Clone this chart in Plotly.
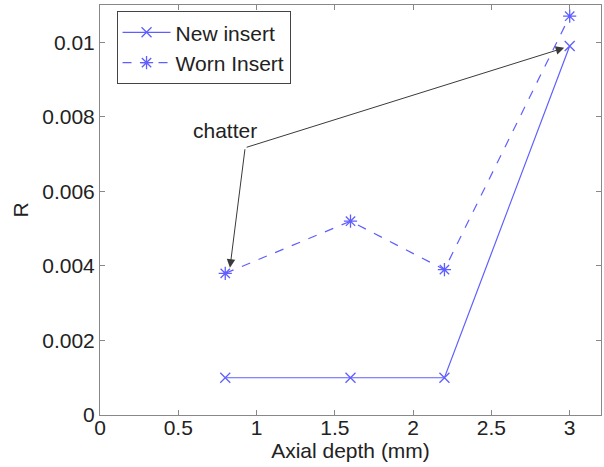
import plotly.graph_objects as go

depth = [0.8, 1.6, 2.2, 3.0]
r_new = [0.001, 0.001, 0.001, 0.0099]
r_worn = [0.0038, 0.0052, 0.0039, 0.0107]

x_ticks = [0, 0.5, 1, 1.5, 2, 2.5, 3]
x_tick_text = ["0", "0.5", "1", "1.5", "2", "2.5", "3"]
y_ticks = [0, 0.002, 0.004, 0.006, 0.008, 0.01]
y_tick_text = ["0", "0.002", "0.004", "0.006", "0.008", "0.01"]

blue = "rgb(95,95,255)"
font = dict(family="Arial, Liberation Sans, sans-serif", size=21, color="#222222")

fig = go.Figure()
fig.add_trace(go.Scatter(
    x=depth, y=r_new, name="New insert", mode="lines+markers",
    line=dict(color=blue, width=1.2),
    marker=dict(symbol="x-thin-open", size=10, line=dict(color=blue, width=1.3)),
))
fig.add_trace(go.Scatter(
    x=depth, y=r_worn, name="Worn Insert", mode="lines+markers",
    line=dict(color=blue, width=1.2, dash="dash"),
    marker=dict(symbol="asterisk-open", size=11, line=dict(color=blue, width=1.3)),
))

# "chatter" label with two arrows pointing at the affected points
fig.add_annotation(x=0.8, y=0.00762, text="chatter", showarrow=False,
                   font=font, xref="x", yref="y")
for tx, ty in [(0.83, 0.00395), (2.965, 0.00985)]:
    fig.add_annotation(x=tx, y=ty, ax=0.927, ay=0.00717, axref="x", ayref="y",
                       xref="x", yref="y", text="", showarrow=True,
                       arrowhead=2, arrowsize=1.7, arrowwidth=1, arrowcolor="#3a3a3a")

axis_common = dict(
    showgrid=False, zeroline=False, showline=True, linecolor="#888888", linewidth=1,
    mirror="ticks", ticks="inside", ticklen=5, tickcolor="#888888",
    tickfont=font,
)
fig.update_xaxes(range=[0, 3.2], tickvals=x_ticks, ticktext=x_tick_text,
                 ticklabelstandoff=-6,
                 title=dict(text="Axial depth (mm)", font=font, standoff=0), **axis_common)
fig.update_yaxes(range=[0, 0.011], tickvals=y_ticks, ticktext=y_tick_text,
                 title=dict(text="R", font=font, standoff=7), **axis_common)

fig.update_layout(
    width=604, height=467,
    margin=dict(l=100, r=3, t=5, b=52),
    paper_bgcolor="white", plot_bgcolor="white",
    showlegend=True,
    legend=dict(x=0.033, y=0.985, xanchor="left", yanchor="top",
                bordercolor="#444444", borderwidth=1, bgcolor="white",
                font=font, tracegroupgap=0, itemwidth=48),
)

fig.write_html("out.html")
